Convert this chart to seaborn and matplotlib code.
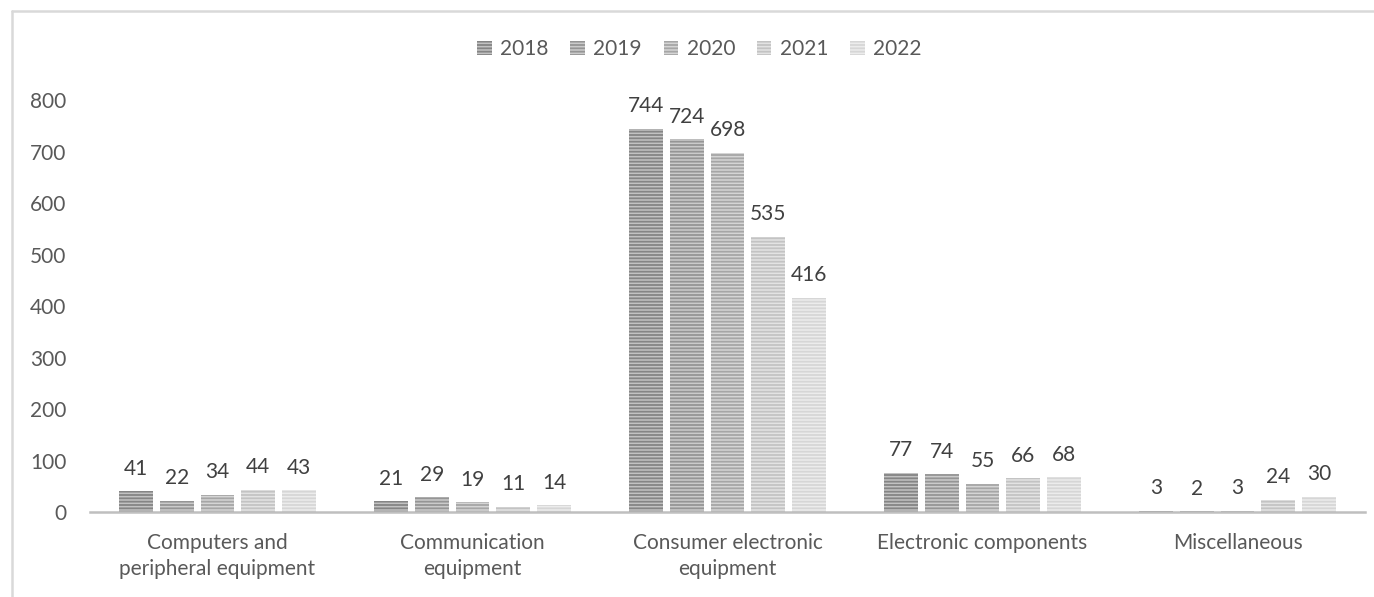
import matplotlib
matplotlib.use("Agg")
import matplotlib.pyplot as plt
import seaborn as sns
import pandas as pd

categories = [
    "Computers and\nperipheral equipment",
    "Communication\nequipment",
    "Consumer electronic\nequipment",
    "Electronic components",
    "Miscellaneous",
]
years = ["2018", "2019", "2020", "2021", "2022"]
values_2018 = [41, 21, 744, 77, 3]
values_2019 = [22, 29, 724, 74, 2]
values_2020 = [34, 19, 698, 55, 3]
values_2021 = [44, 11, 535, 66, 24]
values_2022 = [43, 14, 416, 68, 30]
series = [values_2018, values_2019, values_2020, values_2021, values_2022]

# base fill and stripe colour for each year
face_colors = ["#c2c2c2", "#cbcbcb", "#d5d5d5", "#e3e3e3", "#ececec"]
stripe_colors = ["#858585", "#959595", "#a6a6a6", "#c3c3c3", "#d6d6d6"]

rows = []
for yr, vals in zip(years, series):
    for cat, v in zip(categories, vals):
        rows.append({"category": cat, "year": yr, "value": v})
df = pd.DataFrame(rows)

sns.set_style("white")
plt.rcParams["font.family"] = ["Lato", "DejaVu Sans"]
plt.rcParams["hatch.linewidth"] = 1.3

text_color = "#595959"
fs = 15

fig = plt.figure(figsize=(13.74, 5.97), dpi=100)
ax = fig.add_axes([0.0655, 0.142, 0.928, 0.6905])

sns.barplot(data=df, x="category", y="value", hue="year", order=categories,
            hue_order=years, width=0.8, gap=0.17, ax=ax, errorbar=None,
            legend=False, linewidth=0)

for cont, fc, sc, vals in zip(ax.containers, face_colors, stripe_colors, series):
    for p in cont.patches:
        p.set_facecolor(fc)
        p.set_edgecolor(sc)
        p.set_hatch("-----")
        p.set_linewidth(0)
    ax.bar_label(cont, labels=[str(v) for v in vals], padding=9,
                 fontsize=fs, color="#404040")

ax.set_ylim(0, 800)
ax.set_xlim(-0.5, 4.5)
ax.set_yticks(range(0, 801, 100))
ax.set_xlabel("")
ax.set_ylabel("")
ax.tick_params(axis="y", length=0, pad=17, labelsize=fs, labelcolor=text_color)
ax.tick_params(axis="x", length=0, pad=15, labelsize=fs, labelcolor=text_color)
for lbl in ax.get_xticklabels():
    lbl.set_linespacing(1.4)

for side in ["left", "right", "top"]:
    ax.spines[side].set_visible(False)
ax.spines["bottom"].set_color("#bfbfbf")
ax.spines["bottom"].set_linewidth(1.8)

leg = ax.legend(ax.containers, years, loc="upper center",
                bbox_to_anchor=(0.509, 0.9655), bbox_transform=fig.transFigure,
                ncol=5, frameon=False, fontsize=fs, handlelength=0.7,
                handleheight=0.7, handletextpad=0.4, columnspacing=1.05,
                labelcolor=text_color)

# chart frame on the left and top
frame_color = "#d9d9d9"
fig.add_artist(plt.Line2D([12.5 / 1374, 12.5 / 1374], [0, 1 - 10.5 / 597],
                          transform=fig.transFigure, color=frame_color, lw=1.8))
fig.add_artist(plt.Line2D([12.5 / 1374, 1], [1 - 10.5 / 597, 1 - 10.5 / 597],
                          transform=fig.transFigure, color=frame_color, lw=1.8))

fig.savefig("out.png", dpi=100)
